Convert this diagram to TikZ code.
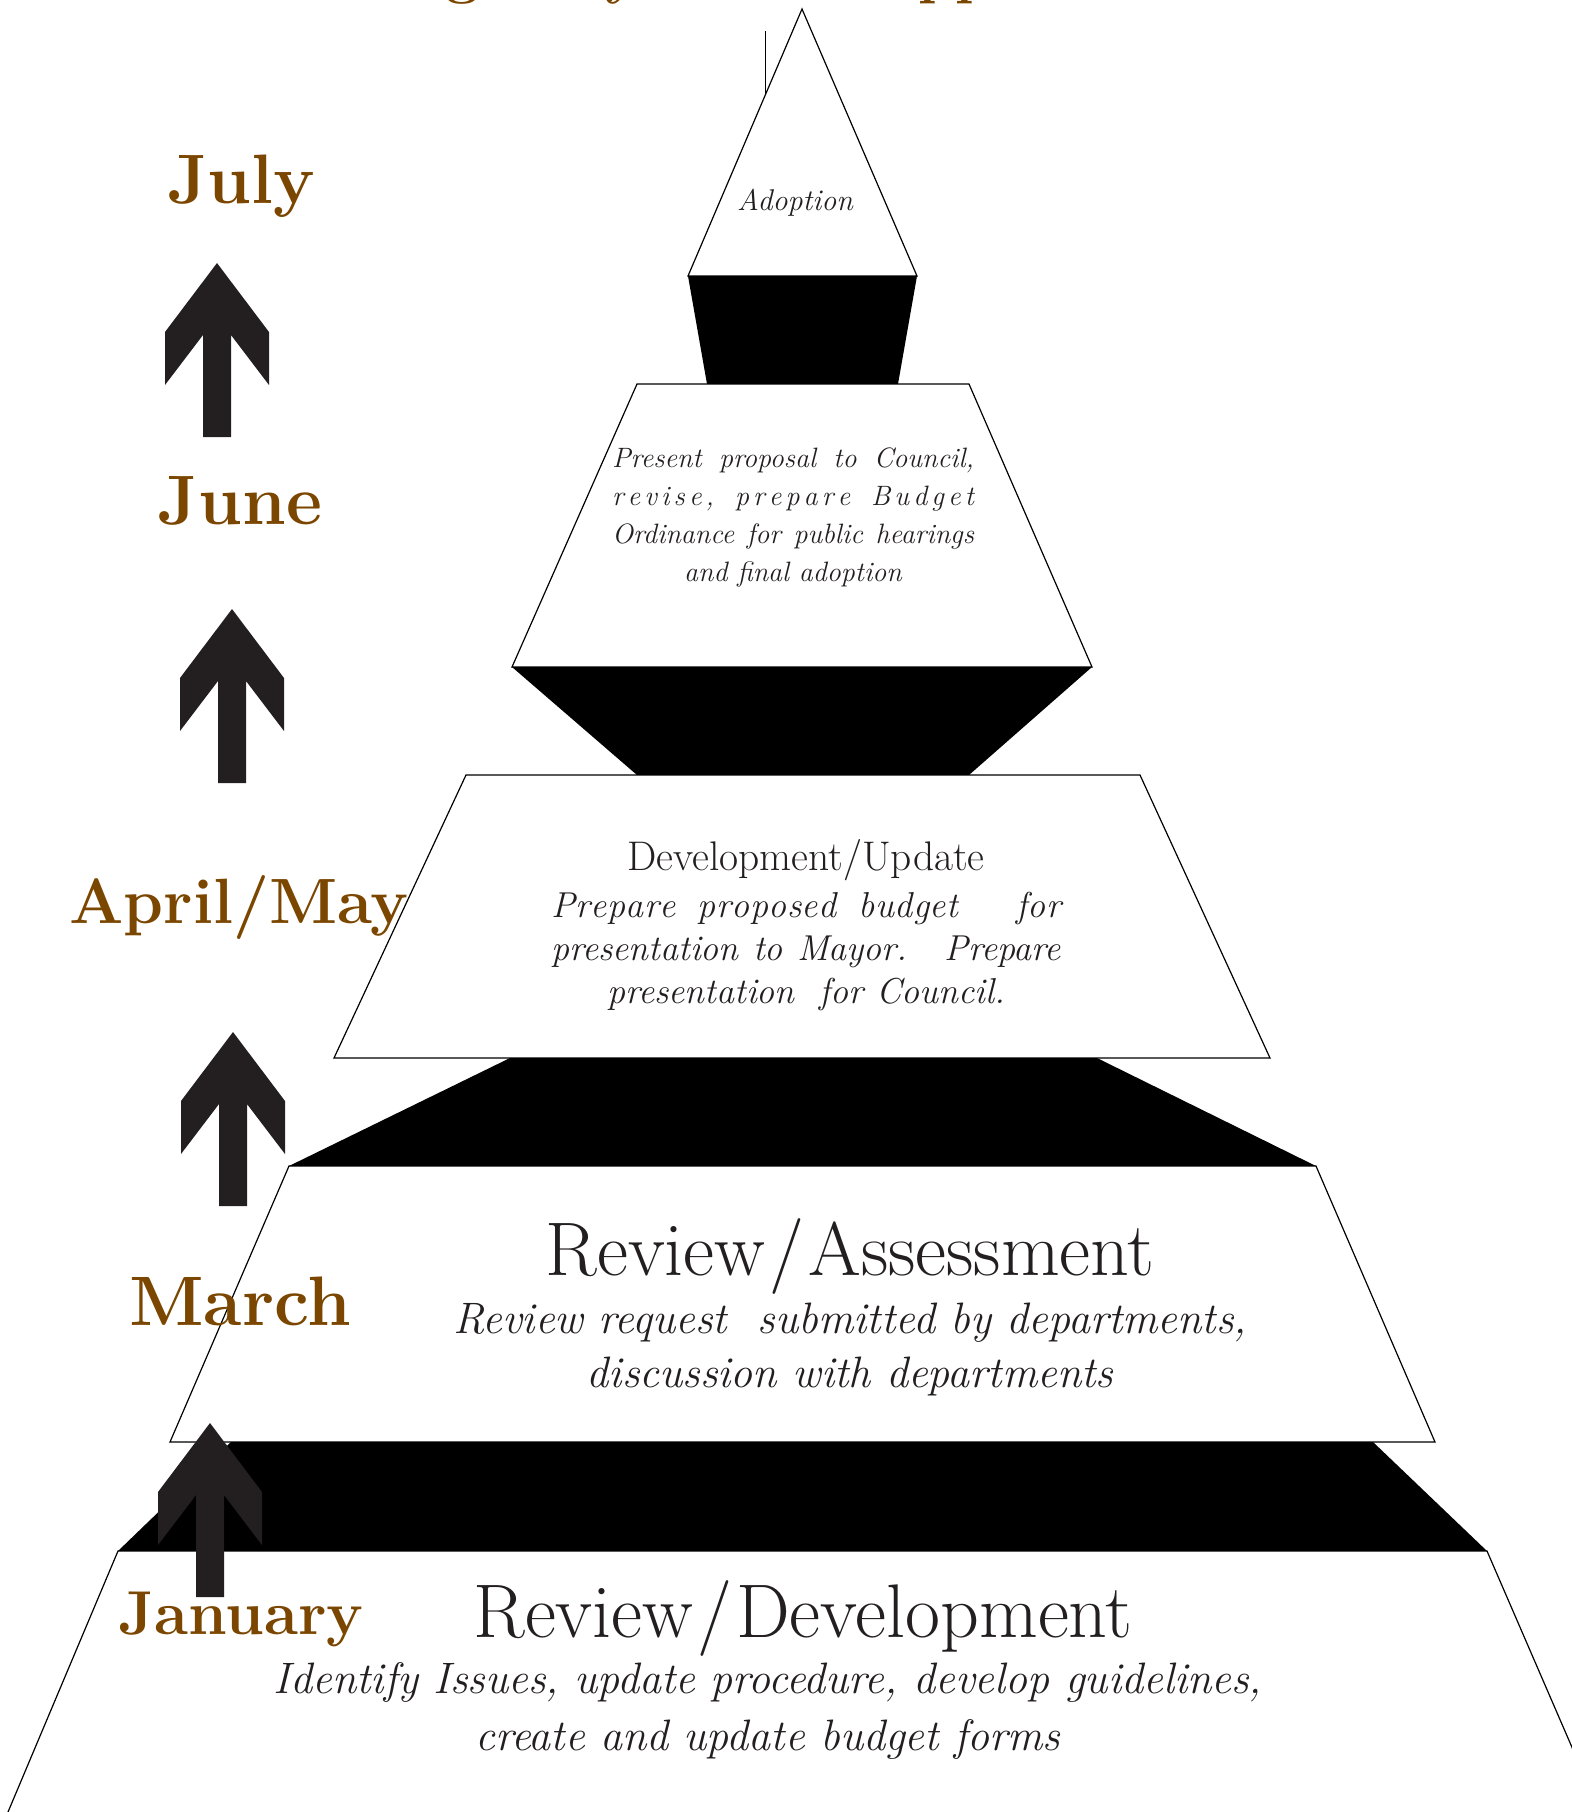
\documentclass[tikz,border=0pt]{standalone}
\usepackage{fontspec}
\tikzset{>=latex}
\definecolor{mybrown}{RGB}{123,70,0}
\definecolor{mydark}{RGB}{35,31,32}
\newcommand\jline[2]{\makebox[#1][s]{#2}}
\newcommand\heavy{\bfseries\addfontfeature{FakeBold=5}}
% letter-spaced word: stretchable glue between the letters
\makeatletter
\def\spaced#1{\spaced@#1\@nil}
\def\spaced@#1#2\@nil{#1\ifx\relax#2\relax\else\hskip 0pt plus 1fil\spaced@#2\@nil\fi}
\makeatother
\newcommand\wgap{\hskip .6em plus 1fil\relax}
\tikzset{
  uparrow/.pic={
    \fill[mydark] (0,0) -- (-52,69) -- (-52,122) -- (-14,72) -- (-14,174)
      -- (14,174) -- (14,72) -- (52,122) -- (52,69) -- cycle;
  },
  month/.style={anchor=base, inner sep=0pt, text=mybrown,
    font=\fontsize{35}{35}\selectfont\heavy},
  heading/.style={anchor=base, inner sep=0pt, text=mydark},
  body/.style={anchor=base, inner sep=0pt, text=mydark, align=center},
  layer/.style={draw=black, line width=0.6pt, fill=white},
  band/.style={fill=black},
}

\begin{document}
\begin{tikzpicture}[x=0.5pt,y=-0.5pt]
  \useasboundingbox (0,0) rectangle (1572,1812);
  \begin{scope}
  \clip (0,0) rectangle (1572,1812);
  % title, cut off by the top edge
  \node[anchor=base west, inner sep=0pt, text=mybrown,
    font=\fontsize{29.5}{30}\selectfont\heavy]
    (title) at (189,-8) {The Budget Cycle and Approval Process};

  % pyramid, top to bottom
  \draw[layer] (802,9) -- (917,276) -- (688,276) -- cycle;
  \draw (765,31) -- (765,95);
  \fill[band] (688,276) -- (917,276) -- (898,384) -- (707,384) -- cycle;
  \draw[layer] (637,384) -- (969,384) -- (1092,667) -- (512,667) -- cycle;
  \fill[band] (512,667) -- (1092,667) -- (969,775) -- (637,775) -- cycle;
  \draw[layer] (466,775) -- (1140,775) -- (1270,1058) -- (334,1058) -- cycle;
  \fill[band] (510,1058) -- (1097,1058) -- (1316,1166) -- (289,1166) -- cycle;
  \draw[layer] (289,1166) -- (1316,1166) -- (1435,1442) -- (170,1442) -- cycle;
  \fill[band] (231,1442) -- (1373,1442) -- (1487,1551) -- (118,1551) -- cycle;
  \draw[layer] (8,1812) -- (118,1551) -- (1487,1551) -- (1600,1812);

  % stage texts (base = last line)
  \node[body, font=\fontsize{15}{15}\selectfont\itshape] (adoption) at (795,210) {Adoption};
  \node[body, font=\fontsize{14}{19}\selectfont\itshape] (proposal) at (793,581)
    {\jline{181pt}{Present proposal to Council,}\\
     \jline{181pt}{\spaced{revise,}\wgap\spaced{prepare}\wgap\spaced{Budget}}\\
     \jline{181pt}{Ordinance for public hearings}\\
     and final adoption};
  \node[heading, font=\fontsize{20.7}{20.7}\selectfont] (devhead) at (806,870)
    {Development/Update};
  \node[body, font=\fontsize{18}{21.5}\selectfont\itshape] (devtext) at (806,1003)
    {\jline{255pt}{\spaced{Prepare}\wgap\spaced{proposed}\wgap\spaced{budget}\wgap\quad\spaced{for}}\\
     \jline{255pt}{presentation to Mayor. \ Prepare}\\
     presentation \ for Council.};
  \node[heading, font=\fontsize{38}{38}\selectfont] (reviewhead) at (850,1275)
    {Review\kern2pt/\kern2pt Assessment};
  \node[body, font=\fontsize{22}{27}\selectfont\itshape] (reviewtext) at (850,1387)
    {Review request \ submitted by departments,\\
     discussion with departments};
  \node[heading, font=\fontsize{38}{38}\selectfont] (develhead) at (803,1637)
    {Review\kern2pt/\kern2pt Development};
  \node[body, font=\fontsize{22}{28.5}\selectfont\itshape] (develtext) at (768,1750)
    {Identify Issues, update procedure, develop guidelines,\\
     create and update budget forms};

  % months and arrows
  \node[month] (july) at (241,203) {July};
  \pic at (217,263) {uparrow};
  \node[month] (june) at (240,524) {June};
  \pic at (232,609) {uparrow};
  \node[month, font=\fontsize{32}{32}\selectfont\heavy] (aprmay) at (239,923) {April/May};
  \pic at (233,1032) {uparrow};
  \node[month] (march) at (240,1325) {March};
  \pic at (210,1423) {uparrow};
  \node[month, font=\fontsize{31}{31}\selectfont\heavy] (january) at (241,1634) {January};
  \end{scope}
\end{tikzpicture}
\end{document}
